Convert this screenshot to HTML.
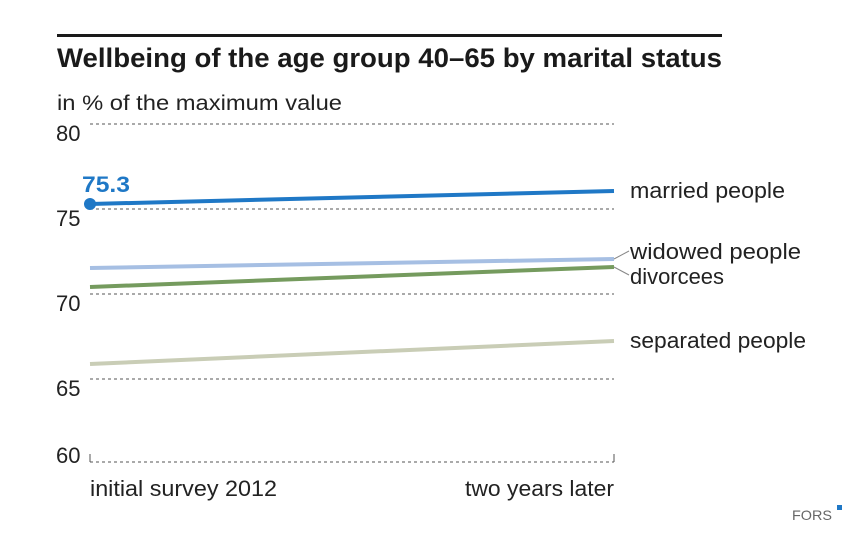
<!DOCTYPE html>
<html><head><meta charset="utf-8"><style>
html,body{margin:0;padding:0;background:#fff;width:862px;height:535px;overflow:hidden}
text{font-family:"Liberation Sans",sans-serif}
</style></head><body>
<svg width="862" height="535" viewBox="0 0 862 535" xmlns="http://www.w3.org/2000/svg">
<rect x="57" y="34" width="665" height="3" fill="#1a1a1a"/>
<text x="57" y="67" font-size="27" font-weight="bold" fill="#1a1a1a" textLength="665" lengthAdjust="spacingAndGlyphs">Wellbeing of the age group 40–65 by marital status</text>
<text x="57" y="110" font-size="21" fill="#222" textLength="285" lengthAdjust="spacingAndGlyphs">in % of the maximum value</text>
<g stroke="#555" stroke-width="1" stroke-dasharray="3,3">
<line x1="90" y1="124" x2="614" y2="124"/>
<line x1="90" y1="209" x2="614" y2="209"/>
<line x1="90" y1="294" x2="614" y2="294"/>
<line x1="90" y1="379" x2="614" y2="379"/>
<line x1="90" y1="462" x2="614" y2="462"/>
</g>
<line x1="90" y1="454" x2="90" y2="462" stroke="#555"/>
<line x1="614" y1="454" x2="614" y2="462" stroke="#555"/>
<g font-size="22" fill="#222">
<text x="56" y="141">80</text>
<text x="56" y="226">75</text>
<text x="56" y="311">70</text>
<text x="56" y="396">65</text>
<text x="56" y="463">60</text>
<text x="90" y="496" textLength="187" lengthAdjust="spacingAndGlyphs">initial survey 2012</text>
<text x="465" y="496" textLength="149" lengthAdjust="spacingAndGlyphs">two years later</text>
<text x="630" y="198" textLength="155" lengthAdjust="spacingAndGlyphs">married people</text>
<text x="630" y="259" textLength="171" lengthAdjust="spacingAndGlyphs">widowed people</text>
<text x="630" y="284" textLength="94" lengthAdjust="spacingAndGlyphs">divorcees</text>
<text x="630" y="348" textLength="176" lengthAdjust="spacingAndGlyphs">separated people</text>
</g>
<g stroke-width="4" stroke-linecap="butt">
<line x1="90" y1="364" x2="614" y2="341" stroke="#c9cdb6"/>
<line x1="90" y1="268" x2="614" y2="259" stroke="#a6bfe3"/>
<line x1="90" y1="287" x2="614" y2="267" stroke="#759b5e"/>
<line x1="90" y1="204" x2="614" y2="191" stroke="#1f78c6"/>
</g>
<line x1="614" y1="259" x2="629" y2="251" stroke="#888" stroke-width="1"/>
<line x1="614" y1="267" x2="629" y2="275" stroke="#888" stroke-width="1"/>
<circle cx="90" cy="204" r="6" fill="#1f78c6"/>
<text x="82" y="192" font-size="22" font-weight="bold" fill="#1f78c6" textLength="48" lengthAdjust="spacingAndGlyphs">75.3</text>
<text x="792" y="520" font-size="14" fill="#666" textLength="40" lengthAdjust="spacingAndGlyphs">FORS</text>
<rect x="837" y="505" width="5" height="5" fill="#1f78c6"/>
</svg>
</body></html>
